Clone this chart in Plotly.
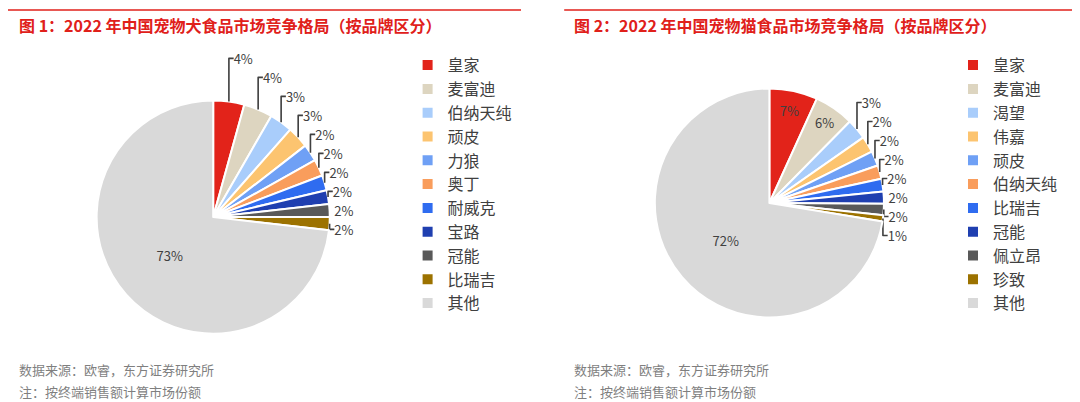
import plotly.graph_objects as go

dog_brands = ["皇家", "麦富迪", "伯纳天纯", "顽皮", "力狼", "奥丁", "耐威克", "宝路", "冠能", "比瑞吉", "其他"]
dog_share = [4.3, 4.0, 3.2, 3.0, 2.4, 2.3, 2.1, 1.9, 1.8, 1.8, 73.2]

cat_brands = ["皇家", "麦富迪", "渴望", "伟嘉", "顽皮", "伯纳天纯", "比瑞吉", "冠能", "佩立昂", "珍致", "其他"]
cat_share = [6.8, 5.6, 2.9, 2.3, 2.1, 1.9, 1.8, 1.7, 1.6, 0.9, 72.4]

colors = ["#e2231a", "#ddd5c0", "#a9cdfb", "#fcc470", "#6fa0f5", "#f99d5c",
          "#2f6cf0", "#1f3fb0", "#595959", "#9c7200", "#d9d9d9"]

FONT = "Noto Sans CJK SC"
fig = go.Figure()

dog_pos = ["outside"] * 10 + ["inside"]
cat_pos = ["inside", "inside"] + ["outside"] * 8 + ["inside"]

# zero-width space keeps the cat labels apart from the dog labels in the legends
cat_labels = [b + "\u200b" for b in cat_brands]

fig.add_trace(go.Pie(labels=dog_brands, values=dog_share, sort=False, direction="clockwise",
                     marker=dict(colors=colors, line=dict(color="white", width=2)),
                     texttemplate="%{percent:.0%}", textposition=dog_pos,
                     textfont=dict(size=13, color="#404040"), insidetextorientation="horizontal",
                     domain=dict(x=[0.05, 0.33], y=[0.19, 0.77]), legend="legend", hoverinfo="label+percent"))
fig.add_trace(go.Pie(labels=cat_labels, values=cat_share, sort=False, direction="clockwise",
                     marker=dict(colors=colors, line=dict(color="white", width=2)),
                     texttemplate="%{percent:.0%}", textposition=cat_pos,
                     textfont=dict(size=13, color="#404040"), insidetextorientation="horizontal",
                     domain=dict(x=[0.56, 0.85], y=[0.23, 0.8]), legend="legend2", hoverinfo="label+percent"))

leg = dict(font=dict(size=16, color="#404040", family=FONT), bgcolor="rgba(0,0,0,0)",
           yanchor="top", y=0.9, tracegroupgap=0, itemwidth=30)
fig.update_layout(
    width=1080, height=402, margin=dict(l=0, r=0, t=0, b=0),
    paper_bgcolor="white", font=dict(family=FONT),
    legend=dict(leg, x=0.37), legend2=dict(leg, x=0.875),
    annotations=[
        dict(text="<b>图 1：2022 年中国宠物犬食品市场竞争格局（按品牌区分）</b>", x=0.008, y=0.958, xref="paper", yref="paper",
             xanchor="left", yanchor="middle", showarrow=False, font=dict(size=16, color="#e0201a")),
        dict(text="<b>图 2：2022 年中国宠物猫食品市场竞争格局（按品牌区分）</b>", x=0.522, y=0.958, xref="paper", yref="paper",
             xanchor="left", yanchor="middle", showarrow=False, font=dict(size=16, color="#e0201a")),
        dict(text="数据来源：欧睿，东方证券研究所", x=0.008, y=0.1, xref="paper", yref="paper",
             xanchor="left", yanchor="middle", showarrow=False, font=dict(size=13, color="#7f7f7f")),
        dict(text="注：按终端销售额计算市场份额", x=0.008, y=0.045, xref="paper", yref="paper",
             xanchor="left", yanchor="middle", showarrow=False, font=dict(size=13, color="#7f7f7f")),
        dict(text="数据来源：欧睿，东方证券研究所", x=0.522, y=0.1, xref="paper", yref="paper",
             xanchor="left", yanchor="middle", showarrow=False, font=dict(size=13, color="#7f7f7f")),
        dict(text="注：按终端销售额计算市场份额", x=0.522, y=0.045, xref="paper", yref="paper",
             xanchor="left", yanchor="middle", showarrow=False, font=dict(size=13, color="#7f7f7f")),
    ],
    shapes=[
        dict(type="line", xref="paper", yref="paper", x0=0.0, x1=0.475, y0=0.995, y1=0.995, line=dict(color="#e0201a", width=1.5)),
        dict(type="line", xref="paper", yref="paper", x0=0.515, x1=1.0, y0=0.995, y1=0.995, line=dict(color="#e0201a", width=1.5)),
        dict(type="line", xref="paper", yref="paper", x0=0.0, x1=0.475, y0=0.005, y1=0.005, line=dict(color="#e0201a", width=1.5)),
        dict(type="line", xref="paper", yref="paper", x0=0.515, x1=1.0, y0=0.005, y1=0.005, line=dict(color="#e0201a", width=1.5)),
    ],
)

fig.write_html("out.html")
